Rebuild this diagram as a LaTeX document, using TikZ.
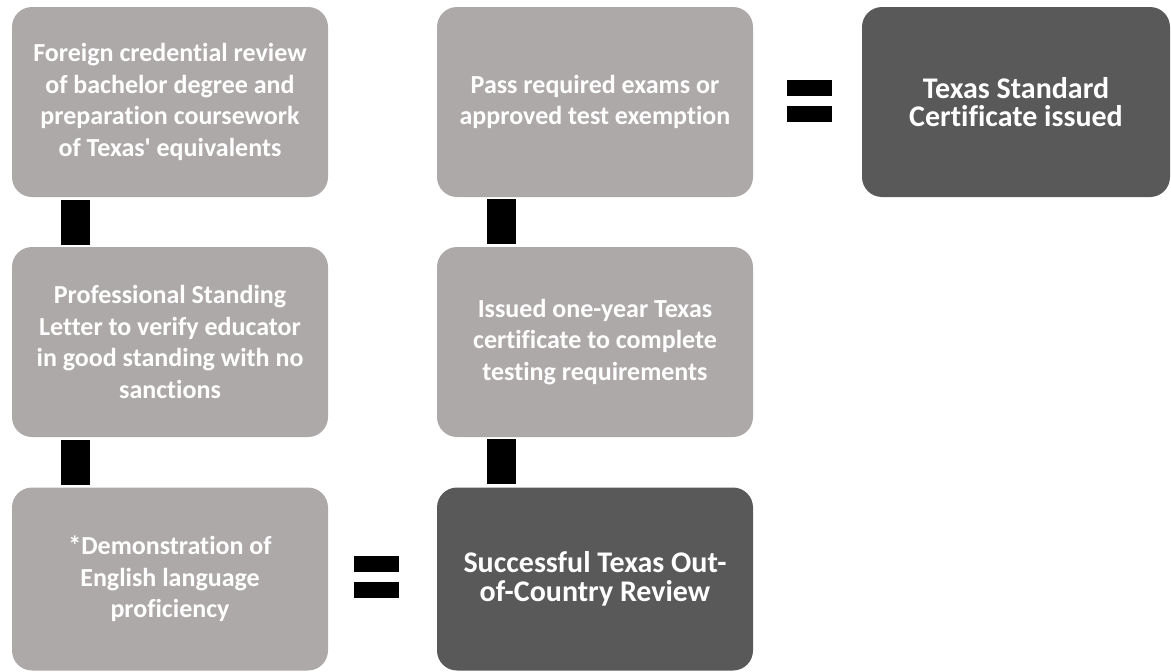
\documentclass[tikz,border=0pt]{standalone}
\usepackage{fontspec}
\setmainfont{Carlito}[Ligatures={NoCommon}]
\definecolor{boxgray}{HTML}{ADA9A8}
\definecolor{boxdark}{HTML}{595959}
\begin{document}
\begin{tikzpicture}[x=1pt, y=-1pt,
		stepbox/.style={rounded corners=20pt, align=center, text=white,
			font=\fontsize{26}{31.7}\selectfont\bfseries,
			minimum width=316pt, minimum height=190pt, inner sep=0pt},
		light/.style={stepbox, fill=boxgray},
		dark/.style={stepbox, fill=boxdark, font=\fontsize{30}{28.6}\selectfont\bfseries},
		bar/.style={line width=29pt, draw=black, shorten <=3pt, shorten >=2pt},
		eqbar/.style={line width=16pt, draw=black}]
			\useasboundingbox (0,0) rectangle (1171,672);
			
			\node[light] (top1)  at  (170, 102){Foreign credential review\\of bachelor degree and\\preparation coursework\\of Texas\textquotesingle\ equivalents};
			\node[light] (top2)  at  (170, 342){Professional Standing\\Letter to verify educator\\in good standing with no\\sanctions};
			\node[light, minimum height=183pt] (top3)  at  (170, 579){*Demonstration of\\English language\\proficiency};
			
			\node[light] (mid1)  at  (595, 102){Pass required exams or\\approved test exemption};
			\node[light] (mid2)  at  (595, 342){Issued one-year Texas\\certificate to complete\\testing requirements};
			\node[dark, minimum height=183pt] (mid3)  at  (595, 579){Successful Texas Out-\\of-Country Review};
			
			\node[dark, minimum width=308pt] (right1)  at  (1016, 102){Texas Standard\\Certificate issued};
			
			\draw[bar] ([xshift=-95pt]top1.south) -- ([xshift=-95pt]top2.north);
			\draw[bar] ([xshift=-95pt]top2.south) -- ([xshift=-95pt]top3.north);
			\draw[bar] ([xshift=-94pt]mid2.north) -- ([xshift=-94pt]mid1.south);
			\draw[bar] ([xshift=-94pt]mid3.north) -- ([xshift=-94pt]mid2.south);
			
			\draw[eqbar, shorten <=26pt, shorten >=38pt] ([yshift=15pt]top3.east) -- ([yshift=15pt]mid3.west);
			\draw[eqbar, shorten <=26pt, shorten >=38pt] ([yshift=-11pt]top3.east) -- ([yshift=-11pt]mid3.west);
			\draw[eqbar, shorten <=34pt, shorten >=30pt] ([yshift=14pt]mid1.east) -- ([yshift=14pt]right1.west);
			\draw[eqbar, shorten <=34pt, shorten >=30pt] ([yshift=-12pt]mid1.east) -- ([yshift=-12pt]right1.west);
		\end{tikzpicture}
\end{document}
